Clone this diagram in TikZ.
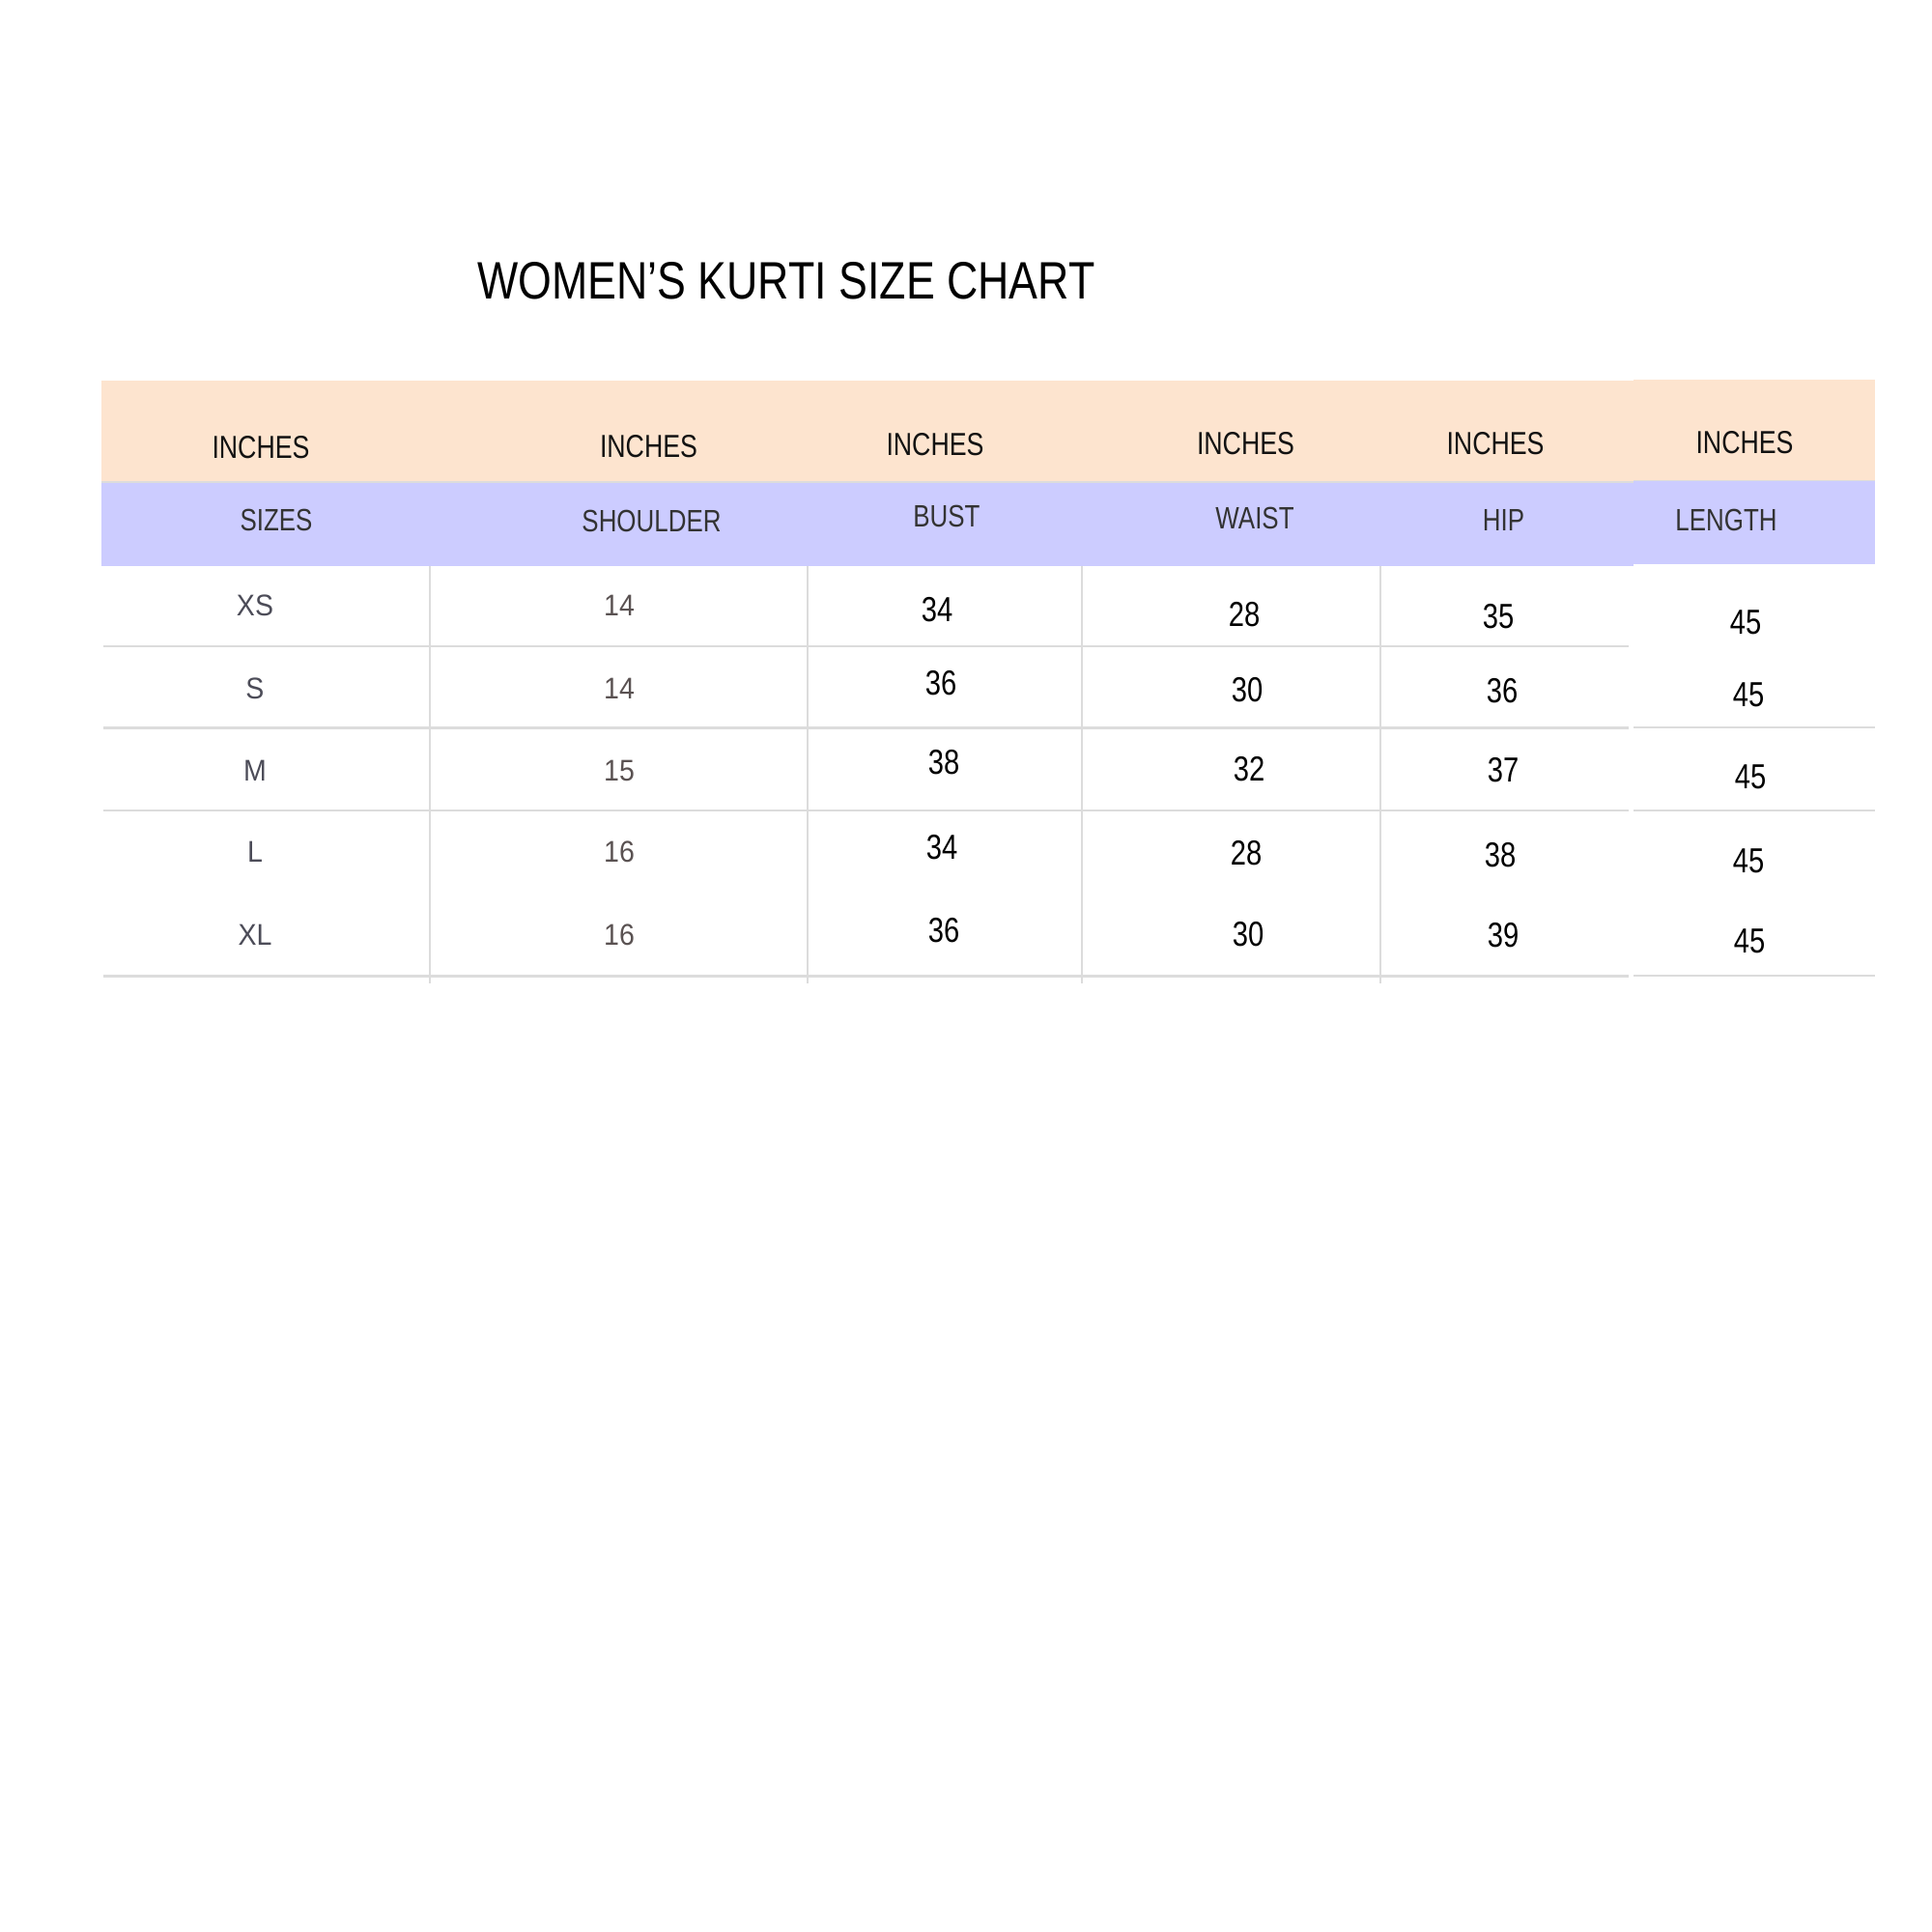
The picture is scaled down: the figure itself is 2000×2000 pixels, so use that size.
\documentclass[tikz,border=0pt]{standalone}
\usepackage{fontspec}
\setmainfont{Liberation Sans}
\newfontfamily\condfont[FakeStretch=0.81]{Liberation Sans}
\newfontfamily\titlefont[FakeStretch=0.82]{Liberation Sans}
\newfontfamily\plainfont[FakeStretch=0.92]{Liberation Sans}
\definecolor{peach}{HTML}{FDE4CF}
\definecolor{lav}{HTML}{CCCCFF}
\definecolor{rulegray}{HTML}{DCDCDC}
\definecolor{labgray}{HTML}{333333}
\definecolor{sizegray}{HTML}{4C4C58}
\definecolor{shgray}{HTML}{5A5252}
\tikzset{
  titletext/.style={anchor=base, inner sep=0pt, font=\titlefont\fontsize{54.5}{54.5}\selectfont, text=black},
  hdrtext/.style={anchor=base, inner sep=0pt, font=\condfont\fontsize{33}{33}\selectfont, text=black!93},
  labtext/.style={anchor=base, inner sep=0pt, font=\condfont\fontsize{32}{32}\selectfont, text=labgray},
  sizetext/.style={anchor=base, inner sep=0pt, font=\plainfont\fontsize{31}{31}\selectfont, text=sizegray},
  shtext/.style={anchor=base, inner sep=0pt, font=\plainfont\fontsize{31}{31}\selectfont, text=shgray},
  numtext/.style={anchor=base, inner sep=0pt, font=\condfont\fontsize{36}{36}\selectfont, text=black},
  hrule/.style={draw=rulegray, line width=2.5pt},
  vrule/.style={draw=rulegray, line width=2pt},
}
\begin{document}
\begin{tikzpicture}[x=1pt, y=-1pt]
\useasboundingbox (0,0) rectangle (2000,2000);
% header bands
\fill[peach] (105,394) rectangle (1691,499);
\fill[lav] (105,499) rectangle (1691,586);
\fill[peach] (1691,393) rectangle (1941,497.5);
\fill[lav] (1691,497.5) rectangle (1941,584);
\draw[draw=rulegray, line width=1.5pt] (105,499) -- (1691,499);
\draw[draw=rulegray, line width=1.5pt] (1691,497.5) -- (1941,497.5);
% horizontal rules
\foreach \yy in {669,753.5,839,1010.6}{ \draw[hrule] (107,\yy) -- (1686,\yy); }
\foreach \yy in {753,839,1010}{ \draw[hrule] (1691,\yy) -- (1941,\yy); }
% vertical rules
\foreach \xx in {444.5,836,1120,1429}{ \draw[vrule] (\xx,586) -- (\xx,1018); }
% title
\node[titletext] (title) at (814,309.5) {WOMEN’S KURTI SIZE CHART};
% header row 1
\node[hdrtext] (h1) at (270,474) {INCHES};
\node[hdrtext] (h2) at (671.5,473) {INCHES};
\node[hdrtext] (h3) at (968,471) {INCHES};
\node[hdrtext] (h4) at (1289.5,470.6) {INCHES};
\node[hdrtext] (h5) at (1548,470.6) {INCHES};
\node[hdrtext] (h6) at (1806,469) {INCHES};
% header row 2
\node[labtext] (l1) at (286,549) {SIZES};
\node[labtext] (l2) at (674.5,550) {SHOULDER};
\node[labtext] (l3) at (980,545) {BUST};
\node[labtext] (l4) at (1299,547) {WAIST};
\node[labtext] (l5) at (1556.5,549) {HIP};
\node[labtext] (l6) at (1787,549) {LENGTH};
% sizes
\node[sizetext] (s1) at (264,637) {XS};
\node[sizetext] (s2) at (264,723) {S};
\node[sizetext] (s3) at (264,808) {M};
\node[sizetext] (s4) at (264,892) {L};
\node[sizetext] (s5) at (264,978) {XL};
% shoulder
\node[shtext] (sh1) at (641,637) {14};
\node[shtext] (sh2) at (641,723) {14};
\node[shtext] (sh3) at (641,808) {15};
\node[shtext] (sh4) at (641,892) {16};
\node[shtext] (sh5) at (641,978) {16};
% bust
\node[numtext] (b1) at (970,643) {34};
\node[numtext] (b2) at (974,719) {36};
\node[numtext] (b3) at (977,801.4) {38};
\node[numtext] (b4) at (975,889.4) {34};
\node[numtext] (b5) at (977,975) {36};
% waist
\node[numtext] (w1) at (1288,648) {28};
\node[numtext] (w2) at (1291,726) {30};
\node[numtext] (w3) at (1293,808) {32};
\node[numtext] (w4) at (1290,895) {28};
\node[numtext] (w5) at (1292,979) {30};
% hip
\node[numtext] (p1) at (1551,650.6) {35};
\node[numtext] (p2) at (1555,727) {36};
\node[numtext] (p3) at (1556,809) {37};
\node[numtext] (p4) at (1553,897) {38};
\node[numtext] (p5) at (1556,980) {39};
% length
\node[numtext] (g1) at (1807,656) {45};
\node[numtext] (g2) at (1810,731) {45};
\node[numtext] (g3) at (1812,816) {45};
\node[numtext] (g4) at (1810,903) {45};
\node[numtext] (g5) at (1811,986) {45};
\end{tikzpicture}
\end{document}
